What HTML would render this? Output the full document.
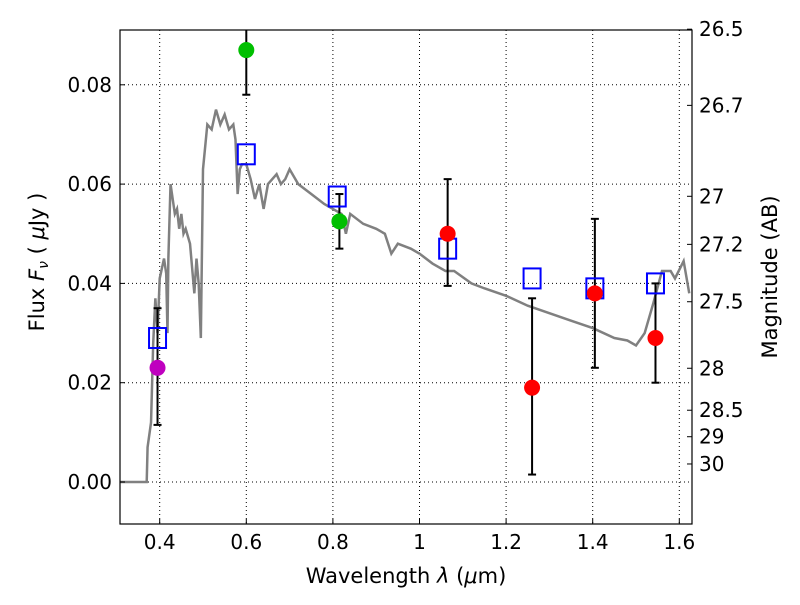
<!DOCTYPE html>
<html><head><meta charset="utf-8"><style>
body{margin:0;background:#fff;}
svg text{font-family:"DejaVu Sans","Liberation Sans",sans-serif;}
</style></head><body>
<svg id="chart" width="800" height="600"></svg>
<script>
const xTicks=[0.4,0.6,0.8,1.0,1.2,1.4,1.6];
const xTickLabels=["0.4","0.6","0.8","1","1.2","1.4","1.6"];
const yTicks=[0,0.02,0.04,0.06,0.08];
const yTickLabels=["0.00","0.02","0.04","0.06","0.08"];
const magTicks=[26.5,26.7,27,27.2,27.5,28,28.5,29,30];
const magLabels=["26.5","26.7","27","27.2","27.5","28","28.5","29","30"];
const specLam=[0.308,0.37,0.372,0.38,0.385,0.39,0.395,0.40,0.405,0.41,0.415,0.418,0.42,0.425,0.43,0.435,0.44,0.445,0.45,0.455,0.46,0.47,0.48,0.485,0.49,0.495,0.50,0.51,0.52,0.53,0.54,0.55,0.56,0.57,0.575,0.58,0.585,0.59,0.6,0.61,0.62,0.63,0.64,0.65,0.67,0.68,0.69,0.70,0.72,0.75,0.78,0.8,0.82,0.83,0.84,0.87,0.9,0.92,0.935,0.95,0.98,1.0,1.03,1.06,1.08,1.12,1.15,1.2,1.25,1.3,1.35,1.4,1.45,1.48,1.5,1.52,1.54,1.56,1.58,1.59,1.61,1.623];
const specFlux=[0,0,0.007,0.012,0.028,0.037,0.030,0.041,0.043,0.045,0.042,0.030,0.045,0.060,0.057,0.054,0.055,0.051,0.054,0.050,0.051,0.048,0.038,0.045,0.040,0.029,0.063,0.072,0.071,0.075,0.072,0.074,0.071,0.072,0.069,0.058,0.063,0.064,0.064,0.061,0.057,0.060,0.055,0.060,0.062,0.060,0.061,0.063,0.060,0.058,0.056,0.055,0.054,0.050,0.054,0.052,0.051,0.050,0.046,0.048,0.047,0.046,0.044,0.0425,0.0425,0.040,0.039,0.0375,0.0355,0.034,0.0325,0.031,0.029,0.0285,0.0275,0.030,0.036,0.0425,0.0425,0.041,0.0445,0.038];
const modelLam=[0.395,0.6,0.81,1.065,1.26,1.405,1.545];
const modelFlux=[0.029,0.066,0.0575,0.047,0.041,0.039,0.040];
const obsLam=[0.395,0.6,0.815,1.065,1.26,1.405,1.545];
const obsFlux=[0.023,0.087,0.0525,0.050,0.019,0.038,0.029];
const obsLo=[0.0115,0.078,0.047,0.0395,0.0015,0.023,0.020];
const obsHi=[0.035,0.096,0.058,0.061,0.037,0.053,0.040];
const obsColor=["#bf00bf","#00bf00","#00bf00","#ff0000","#ff0000","#ff0000","#ff0000"];

const L=120,R=692,T=30,B=524;
const X=l=>159.7+(l-0.4)*433;
const Y=v=>482-v*4965;
const NS="http://www.w3.org/2000/svg";
const svg=document.getElementById('chart');
function mk(tag,attrs,parent){const e=document.createElementNS(NS,tag);for(const k in attrs)e.setAttribute(k,attrs[k]);(parent||svg).appendChild(e);return e;}
const defs=mk('defs',{});const cp=mk('clipPath',{id:'clip'},defs);mk('rect',{x:L,y:T,width:R-L,height:B-T},cp);
const plot=mk('g',{'clip-path':'url(#clip)'});


xTicks.forEach((t,i)=>{
  const g=mk('line',{x1:X(t),x2:X(t),y1:T,y2:B,stroke:'#000','stroke-dasharray':'1,3','stroke-width':1},plot);
  
  
  mk('line',{x1:X(t),x2:X(t),y1:B,y2:B-5,stroke:'#000'});
  const tx=mk('text',{x:X(t),y:B+25,'font-size':20,'text-anchor':'middle'});tx.textContent=xTickLabels[i];
  
  
});
yTicks.forEach((t,i)=>{
  const g=mk('line',{x1:L,x2:R,y1:Y(t),y2:Y(t),stroke:'#000','stroke-dasharray':'1,3','stroke-width':1},plot);
  
  
  mk('line',{x1:L,x2:L+5,y1:Y(t),y2:Y(t),stroke:'#000'});
  const tx=mk('text',{x:L-8,y:Y(t)+7,'font-size':20,'text-anchor':'end'});tx.textContent=yTickLabels[i];
  
  
});
magTicks.forEach((m,i)=>{
  const y=Y(Math.pow(10,(23.9-m)/2.5));
  mk('line',{x1:R,x2:R-5,y1:y,y2:y,stroke:'#000'});
  const tx=mk('text',{x:R+7,y:y+7,'font-size':20});tx.textContent=magLabels[i];
  
  
});
const sp=mk('polyline',{points:specLam.map((l,i)=>X(l)+','+Y(specFlux[i])).join(' '),fill:'none',stroke:'#808080','stroke-width':2.5},plot);


obsLam.forEach((l,i)=>{
  const x=X(l);
  const e=mk('line',{x1:x,x2:x,y1:Y(obsLo[i]),y2:Y(obsHi[i]),stroke:'#000','stroke-width':2},plot);
  
  
  [obsLo[i],obsHi[i]].forEach(v=>mk('line',{x1:x-4,x2:x+4,y1:Y(v),y2:Y(v),stroke:'#000','stroke-width':2},plot));
});
modelLam.forEach((l,i)=>{
  const r=mk('rect',{x:X(l)-8.5,y:Y(modelFlux[i])-10,width:17,height:20,fill:'none',stroke:'#0000ff','stroke-width':2},plot);
  
  
});
obsLam.forEach((l,i)=>{
  const c=mk('circle',{cx:X(l),cy:Y(obsFlux[i]),r:8,fill:obsColor[i]},plot);
  
  
});
const fr=mk('rect',{x:L,y:T,width:R-L,height:B-T,fill:'none',stroke:'#000','stroke-width':1.2});


const xl=mk('text',{x:406,y:583,'font-size':21,'text-anchor':'middle'});
xl.innerHTML='Wavelength  <tspan font-style="italic">λ</tspan> (<tspan font-style="italic">μ</tspan>m)';
xl.setAttribute('xml:space','preserve');


const yl=mk('text',{transform:'translate(44,262) rotate(-90)','font-size':21,'text-anchor':'middle'});
yl.setAttribute('xml:space','preserve');
yl.innerHTML='Flux  <tspan font-style="italic">F</tspan><tspan font-style="italic" font-size="14" dy="4">ν</tspan><tspan dy="-4">  (  </tspan><tspan font-style="italic">μ</tspan>Jy )';


const ml=mk('text',{transform:'translate(777,277) rotate(-90)','font-size':21,'text-anchor':'middle'});
ml.textContent='Magnitude (AB)';


</script>
</body></html>
